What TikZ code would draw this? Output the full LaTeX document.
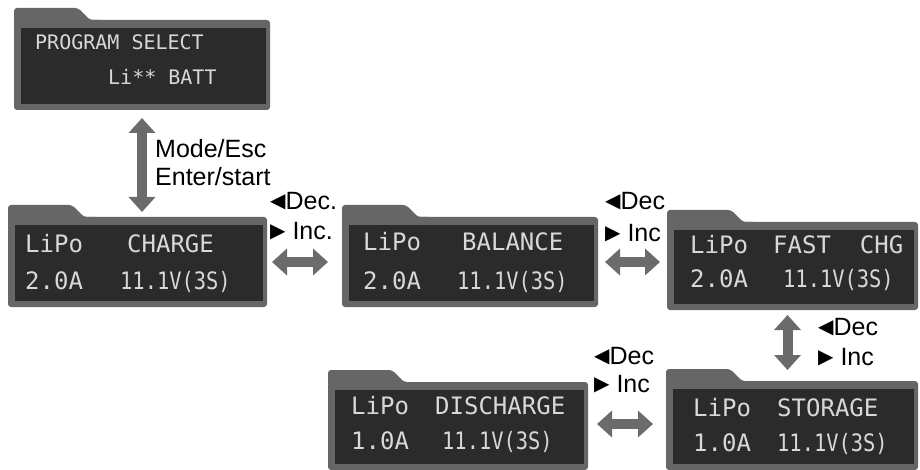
\documentclass[tikz,border=0pt]{standalone}
\usepackage{fontspec}
\setmainfont{Liberation Sans}
\newfontfamily\lcdfont{DejaVu Sans Mono}
\newfontfamily\lcdnarrow[FakeStretch=0.85]{DejaVu Sans Mono}
\newfontfamily\symfont{DejaVu Sans}
\usetikzlibrary{arrows.meta,calc}
\definecolor{framegray}{HTML}{666666}
\definecolor{lcdbg}{HTML}{2B2B2B}
\definecolor{lcdfg}{HTML}{D8D8D8}
\definecolor{arrowgray}{HTML}{6B6B6B}
\newcommand\decmark{{\symfont\fontsize{20}{20}\selectfont\raisebox{2pt}{◀}}}
\newcommand\incmark{{\symfont\fontsize{20}{20}\selectfont\raisebox{2pt}{▶}}}
\tikzset{
  folder/.style={fill=framegray, rounded corners=3pt, anchor=north west, inner sep=0pt, outer sep=0pt},
  lcdtext/.style={font=\lcdfont\fontsize{24}{24}\selectfont, text=lcdfg, anchor=base west, inner sep=0pt},
  lcdnum/.style={font=\lcdnarrow\fontsize{24}{24}\selectfont, text=lcdfg, anchor=base west, inner sep=0pt},
  lcdsmall/.style={font=\lcdfont\fontsize{20}{20}\selectfont, text=lcdfg, anchor=base west, inner sep=0pt},
  lbl/.style={font=\fontsize{25}{25}\selectfont, anchor=base west, inner sep=0pt, text=black},
  fat/.style={draw=arrowgray, line width=10pt, {Triangle[width=26pt,length=15pt]}-{Triangle[width=26pt,length=15pt]}},
}
% name, x, y (body top), width, height
\newcommand\folderbox[5]{%
  \node[folder, minimum width=#4pt, minimum height=#5pt] (#1) at (#2,#3) {};
  \fill[framegray, rounded corners=3pt] ($(#1.north west)+(0,4)$) -- ($(#1.north west)+(0,-12)$)
     -- ($(#1.north west)+(64,-12)$) -- ($(#1.north west)+(76,0)$) -- ($(#1.north west)+(90,0)$)
     -- ($(#1.north west)+(90,4)$) -- cycle;
  \fill[lcdbg] ($(#1.north west)+(7,8)$) rectangle ($(#1.south east)+(-4,-6)$);
}
\begin{document}
\begin{tikzpicture}[x=1pt,y=-1pt]
\useasboundingbox (0,0) rectangle (920,470);

\folderbox{top}{14}{20}{256}{90}
\folderbox{charge}{8}{217}{259}{90}
\folderbox{balance}{342}{217}{256}{90}
\folderbox{fast}{667}{222}{251}{88}
\folderbox{discharge}{328}{382}{260}{88}
\folderbox{storage}{666}{381}{252}{89}

% LCD texts
\node[lcdsmall] (topA) at (35,50) {PROGRAM SELECT};
\node[lcdsmall] (topB) at (108,85) {Li** BATT};

\node[lcdtext] (chA) at (25,252) {LiPo};
\node[lcdtext] (chB) at (127,252) {CHARGE};
\node[lcdtext] (chC) at (25,289) {2.0A};
\node[lcdnum] (chD) at (120,289) {11.1V(3S)};

\node[lcdtext] (baA) at (363,251) {LiPo};
\node[lcdtext] (baB) at (462,251) {BALANCE};
\node[lcdtext] (baC) at (363,289) {2.0A};
\node[lcdnum] (baD) at (457,289) {11.1V(3S)};

\node[lcdtext] (faA) at (690,254) {LiPo};
\node[lcdtext] (faB) at (773,254) {FAST\ \ CHG};
\node[lcdtext] (faC) at (690,287) {2.0A};
\node[lcdnum] (faD) at (783,287) {11.1V(3S)};

\node[lcdtext] (diA) at (351,414) {LiPo};
\node[lcdtext] (diB) at (435,414) {DISCHARGE};
\node[lcdtext] (diC) at (351,449) {1.0A};
\node[lcdnum] (diD) at (442,449) {11.1V(3S)};

\node[lcdtext] (stA) at (693,416) {LiPo};
\node[lcdtext] (stB) at (777,416) {STORAGE};
\node[lcdtext] (stC) at (693,451) {1.0A};
\node[lcdnum] (stD) at (777,451) {11.1V(3S)};

% arrows
\draw[fat, shorten <=8pt, shorten >=5pt] (top.south) -- (top.south |- charge.north);
\draw[fat, shorten <=5pt, shorten >=14pt] (charge.east) -- (charge.east -| balance.west);
\draw[fat, shorten <=7pt, shorten >=7pt] (balance.east) -- (balance.east -| fast.west);
\draw[fat, shorten <=5pt, shorten >=11pt] ([xshift=-5pt]fast.south) -- ([xshift=-5pt]fast.south |- storage.north);
\draw[fat, shorten <=9pt, shorten >=13pt] ([yshift=2pt]discharge.east) -- ([yshift=2pt]discharge.east -| storage.west);

% labels
\node[lbl] (modeesc) at (155,158) {Mode/Esc};
\node[lbl] (enterstart) at (155,186) {Enter/start};
\node[lbl] (dec1) at (270,210) {\decmark Dec.};
\node[lbl] (inc1) at (270,240) {\incmark\ Inc.};
\node[lbl] (dec2) at (605,210) {\decmark Dec};
\node[lbl] (inc2) at (605,242) {\incmark\ Inc};
\node[lbl] (dec3) at (818,335) {\decmark Dec};
\node[lbl] (inc3) at (818,365) {\incmark\ Inc};
\node[lbl] (dec4) at (594,364) {\decmark Dec};
\node[lbl] (inc4) at (594,392) {\incmark\ Inc};
\end{tikzpicture}
\end{document}
